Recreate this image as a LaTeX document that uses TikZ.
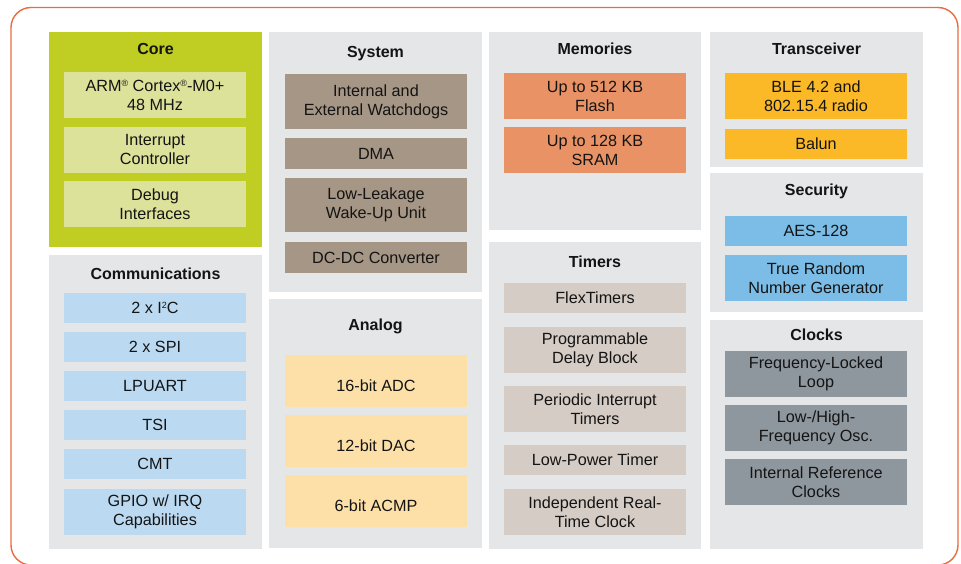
\documentclass[tikz,border=0pt]{standalone}
\usepackage{fontspec}
\setmainfont{Liberation Sans}
\definecolor{frameor}{RGB}{234,108,62}
\definecolor{framesal}{RGB}{242,160,128}
\definecolor{panel}{RGB}{229,230,232}
\definecolor{corecol}{RGB}{192,205,34}
\definecolor{coreinner}{RGB}{221,226,154}
\definecolor{commblue}{RGB}{187,218,242}
\definecolor{sysbrown}{RGB}{166,150,134}
\definecolor{anaorange}{RGB}{253,224,168}
\definecolor{memorange}{RGB}{232,146,101}
\definecolor{timgray}{RGB}{213,204,197}
\definecolor{trxyellow}{RGB}{251,184,39}
\definecolor{secblue}{RGB}{123,189,230}
\definecolor{clkgray}{RGB}{143,151,158}
\definecolor{txt}{RGB}{20,20,20}
\newcommand\smreg{{\fontsize{9}{9}\selectfont\raisebox{4.2pt}{®}}}
\newcommand\smtwo{{\fontsize{9}{9}\selectfont\raisebox{4.6pt}{2}}}
\tikzset{
  every node/.style={font=\fontsize{16.2}{19}\selectfont, text=txt},
  blkbox/.style={inner sep=0pt, outer sep=0pt, align=center, draw=none},
  ttl/.style={font=\fontsize{16}{19}\selectfont\bfseries, inner sep=0pt}
}
% #1 style, #2 x1, #3 y1, #4 x2, #5 y2, #6 name, #7 text
\newcommand\blk[7]{\node[blkbox,#1,minimum width={(#4)-(#2)},minimum height={(#5)-(#3)},anchor=north west] (#6) at (#2,#3) {#7};}
\begin{document}
\begin{tikzpicture}[x=1pt,y=-1pt]
\useasboundingbox (0,0) rectangle (961,563);
\begin{scope}
\clip (0,0) rectangle (961,563);
\draw[frameor, line width=1.4pt, rounded corners=20pt] (11,7.5) rectangle (958,565);
\draw[framesal, line width=1.4pt] (11,30) -- (11,545);
\end{scope}
% ---- Column 1
\blk{fill=corecol}{49}{32}{262}{247}{core}{}
\node[ttl] (coret) at (155.5,49) {Core};
\blk{fill=coreinner}{64}{72}{246}{118}{arm}{ARM\smreg{} Cortex\smreg-M0+\\48 MHz}
\blk{fill=coreinner}{64}{127}{246}{173}{intc}{Interrupt\\Controller}
\blk{fill=coreinner}{64}{181}{246}{227}{dbg}{Debug\\Interfaces}

\blk{fill=panel}{49}{255}{262}{549}{comm}{}
\node[ttl] (commt) at (155.5,274) {Communications};
\blk{fill=commblue}{64}{293}{246}{323}{i2c}{2 x I\smtwo C}
\blk{fill=commblue}{64}{332}{246}{362}{spi}{2 x SPI}
\blk{fill=commblue}{64}{371}{246}{401}{lpuart}{LPUART}
\blk{fill=commblue}{64}{410}{246}{440}{tsi}{TSI}
\blk{fill=commblue}{64}{449}{246}{479}{cmt}{CMT}
\blk{fill=commblue}{64}{489}{246}{535}{gpio}{GPIO w/ IRQ\\Capabilities}

% ---- Column 2
\blk{fill=panel}{269}{32}{482}{292}{sys}{}
\node[ttl] (syst) at (375.5,54) {System};
\blk{fill=sysbrown}{285}{74}{467}{129}{wdog}{Internal and\\External Watchdogs}
\blk{fill=sysbrown}{285}{138}{467}{169}{dma}{DMA}
\blk{fill=sysbrown}{285}{178}{467}{232}{llwu}{Low-Leakage\\Wake-Up Unit}
\blk{fill=sysbrown}{285}{242}{467}{273}{dcdc}{DC-DC Converter}

\blk{fill=panel}{269}{299}{482}{548}{ana}{}
\node[ttl] (anat) at (375.5,326) {Analog};
\blk{fill=anaorange}{285}{355}{467}{407}{adc}{}
\node (adct) at ([yshift=-5pt]adc.center) {16-bit ADC};
\blk{fill=anaorange}{285}{415}{467}{467}{dac}{}
\node (dact) at ([yshift=-5pt]dac.center) {12-bit DAC};
\blk{fill=anaorange}{285}{475}{467}{527}{acmp}{}
\node (acmpt) at ([yshift=-5pt]acmp.center) {6-bit ACMP};

% ---- Column 3
\blk{fill=panel}{489}{32}{701}{230}{mem}{}
\node[ttl] (memt) at (595,49) {Memories};
\blk{fill=memorange}{504}{73}{686}{119}{flash}{Up to 512 KB\\Flash}
\blk{fill=memorange}{504}{127}{686}{173}{sram}{Up to 128 KB\\SRAM}

\blk{fill=panel}{489}{242}{701}{549}{tim}{}
\node[ttl] (timt) at (595,262) {Timers};
\blk{fill=timgray}{504}{283}{686}{313}{ftm}{FlexTimers}
\blk{fill=timgray}{504}{327}{686}{373}{pdb}{Programmable\\Delay Block}
\blk{fill=timgray}{504}{386}{686}{432}{pit}{Periodic Interrupt\\Timers}
\blk{fill=timgray}{504}{445}{686}{475}{lptmr}{Low-Power Timer}
\blk{fill=timgray}{504}{489}{686}{535}{rtc}{Independent Real-\\Time Clock}

% ---- Column 4
\blk{fill=panel}{710}{32}{923}{167}{trx}{}
\node[ttl] (trxt) at (816.5,49) {Transceiver};
\blk{fill=trxyellow}{725}{73}{907}{119}{ble}{BLE 4.2 and\\802.15.4 radio}
\blk{fill=trxyellow}{725}{129}{907}{159}{balun}{Balun}

\blk{fill=panel}{710}{173}{923}{312}{sec}{}
\node[ttl] (sect) at (816.5,191) {Security};
\blk{fill=secblue}{725}{216}{907}{246}{aes}{AES-128}
\blk{fill=secblue}{725}{255}{907}{301}{trng}{True Random\\Number Generator}

\blk{fill=panel}{710}{320}{923}{549}{clk}{}
\node[ttl] (clkt) at (816.5,335) {Clocks};
\blk{fill=clkgray}{725}{351}{907}{397}{fll}{Frequency-Locked\\Loop}
\blk{fill=clkgray}{725}{405}{907}{451}{osc}{Low-/High-\\Frequency Osc.}
\blk{fill=clkgray}{725}{459}{907}{505}{irc}{Internal Reference\\Clocks}
\end{tikzpicture}
\end{document}
